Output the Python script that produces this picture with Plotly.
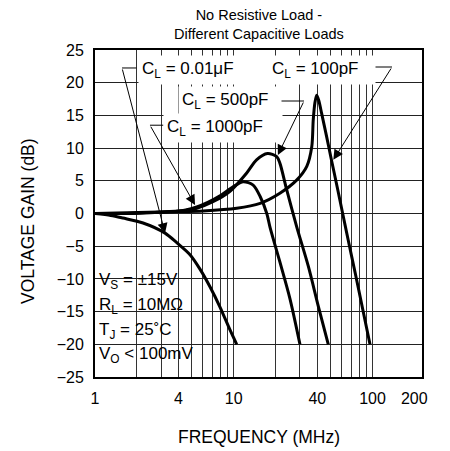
import math
import plotly.graph_objects as go

# ---------------- data ----------------
freq_c001 = [1, 1.3, 1.59, 2.22, 3.2, 3.9, 4.84, 5.71, 6.74, 7.96, 9.4, 10.5]
gain_c001 = [0, -0.3, -0.7, -1.45, -3.0, -4.5, -6.3, -8.5, -11.2, -14.3, -17.8, -20]

freq_c1000 = [1, 2, 3.47, 4.5, 5.41, 6.5, 7.96, 9.89, 11.7, 13.8, 15.5, 17.3, 18.3, 21.5, 25.4, 30]
gain_c1000 = [0, 0.05, 0.3, 0.55, 1.0, 1.7, 2.7, 4.1, 4.86, 4.35, 2.6, 0.0, -2.2, -7.4, -13.0, -20]

freq_c500 = [1, 2, 3.47, 4.5, 5.41, 7.08, 9.4, 12.4, 14.6, 17.5, 20.4, 21.5, 24.1, 28.4, 34.5, 40.7, 48]
gain_c500 = [0, 0.05, 0.25, 0.45, 0.8, 1.8, 3.4, 6.2, 8.2, 9.17, 8.7, 7.7, 3.6, -2.0, -8.1, -14.2, -20]

freq_c100 = [1, 3.47, 6, 10.5, 15.5, 21.5, 28.4, 33.6, 36.5, 37.4, 38.5, 39.6, 41, 43, 46.7, 50.6, 55.6, 60.9, 66.8, 75.1, 84.3, 95.9]
gain_c100 = [0, 0.27, 0.4, 0.8, 1.56, 3.1, 5.1, 7.2, 10.2, 14.3, 17.0, 18.1, 17.3, 15.3, 11.75, 8.18, 4.1, 0.03, -4.05, -9.14, -14.25, -20]

x_tick_vals = [1, 4, 10, 40, 100, 200]
x_tick_text = ["1", "4", "10", "40", "100", "200"]
x_grid_vals = [2, 3, 4, 5, 6, 7, 8, 9, 10, 20, 30, 40, 50, 60, 70, 80, 90, 100]
y_tick_vals = [25, 20, 15, 10, 5, 0, -5, -10, -15, -20, -25]

# label text, box-left freq, centre dB, box width(px)
curve_labels = [
    ("C<sub>L</sub> = 0.01μF", 2.04, 21.9, 126),
    ("C<sub>L</sub> = 500pF", 3.96, 17.2, 96),
    ("C<sub>L</sub> = 1000pF", 3.09, 13.1, 112),
    ("C<sub>L</sub> = 100pF", 17.66, 21.9, 100),
]
# leaders: tip (f, dB), corner (f, dB), end of dash freq
leaders = [
    ((3.2, -3.0), (1.566, 22.25), 2.04),
    ((5.26, 1.3), (2.49, 13.5), 3.19),
    ((20.8, 8.95), (32.1, 17.2), 20.8),
    ((52.2, 8.2), (138.2, 22.4), 99.0),
]
cond_lines = ["V<sub>S</sub> = ±15V", "R<sub>L</sub> = 10MΩ", "T<sub>J</sub> = 25˚C", "V<sub>O</sub> < 100mV"]
cond_y = [0.295, 0.217, 0.1407, 0.0673]

FONT = "Arial, Liberation Sans, sans-serif"
L = math.log10

fig = go.Figure()
for fx, gy in [(freq_c001, gain_c001), (freq_c1000, gain_c1000),
               (freq_c500, gain_c500), (freq_c100, gain_c100)]:
    fig.add_trace(go.Scatter(x=fx, y=gy, mode="lines",
                             line=dict(color="black", width=3, shape="spline", smoothing=0.8),
                             showlegend=False, hoverinfo="skip"))

ann = []
# leader lines
for (tip, corner, dash_end) in leaders:
    ann.append(dict(x=L(tip[0]), y=tip[1], xref="x", yref="y",
                    ax=L(corner[0]), ay=corner[1], axref="x", ayref="y",
                    text="", showarrow=True, arrowhead=2, arrowsize=2,
                    arrowwidth=1, arrowcolor="black", standoff=0, startstandoff=0))
    ann.append(dict(x=L(corner[0]), y=corner[1], xref="x", yref="y",
                    ax=L(dash_end), ay=corner[1], axref="x", ayref="y",
                    text="", showarrow=True, arrowhead=0, arrowwidth=1,
                    arrowcolor="black", standoff=0, startstandoff=0))
# curve labels
for (txt, fx, dbv, w) in curve_labels:
    ann.append(dict(x=L(fx), y=dbv, xref="x", yref="y", xanchor="left", yanchor="middle",
                    text=txt, showarrow=False, bgcolor="white", borderpad=3,
                    width=w, align="left", font=dict(family=FONT, size=17, color="black")))
# conditions box text
for txt, yy in zip(cond_lines, cond_y):
    ann.append(dict(x=0.006, y=yy, xref="paper", yref="paper", xanchor="left", yanchor="middle",
                    text=txt, showarrow=False, align="left",
                    font=dict(family=FONT, size=17, color="black")))
# titles
ann.append(dict(x=0.5015, y=1.0765, xref="paper", yref="paper", xanchor="center", yanchor="middle",
                text="No Resistive Load -<br>Different Capacitive Loads", showarrow=False,
                font=dict(family=FONT, size=14.5, color="black")))
ann.append(dict(x=0.5, y=-0.1835, xref="paper", yref="paper", xanchor="center", yanchor="middle",
                text="FREQUENCY (MHz)", showarrow=False,
                font=dict(family=FONT, size=17.5, color="black")))
ann.append(dict(x=-0.2049, y=0.477, xref="paper", yref="paper", xanchor="center", yanchor="middle",
                text="VOLTAGE GAIN (dB)", textangle=-90, showarrow=False,
                font=dict(family=FONT, size=17.5, color="black")))

shapes = [dict(type="rect", xref="paper", yref="paper", x0=0, x1=0.3425, y0=0, y1=0.3517,
               fillcolor="white", line=dict(width=0), layer="between")]

# the page body has an 8px margin, so the figure is 442x443 to fill the 450x451 window
fig.update_layout(
    width=442, height=443,
    margin=dict(l=87, r=28, t=42, b=74, pad=0),
    paper_bgcolor="white", plot_bgcolor="white",
    font=dict(family=FONT, size=16, color="black"),
    annotations=ann, shapes=shapes,
    xaxis=dict(type="log", range=[0, 327 / 138.75], tickmode="array",
               tickvals=x_tick_vals, ticktext=x_tick_text,
               showgrid=False, zeroline=False,
               ticks="outside", ticklen=6, tickcolor="rgba(0,0,0,0)",
               showline=True, linecolor="black", linewidth=2, mirror=True,
               tickfont=dict(family=FONT, size=16, color="black"),
               minor=dict(tickmode="array", tickvals=x_grid_vals, showgrid=True,
                          gridcolor="#333333", gridwidth=1, ticks="inside",
                          ticklen=1, tickcolor="rgba(0,0,0,0)")),
    yaxis=dict(range=[-25, 25], tickmode="array", tickvals=y_tick_vals,
               showgrid=True, gridcolor="#222222", gridwidth=1, zeroline=False,
               ticks="outside", ticklen=6, tickcolor="rgba(0,0,0,0)",
               showline=True, linecolor="black", linewidth=2, mirror=True,
               tickfont=dict(family=FONT, size=16, color="black")),
)

fig.write_html("out.html")
